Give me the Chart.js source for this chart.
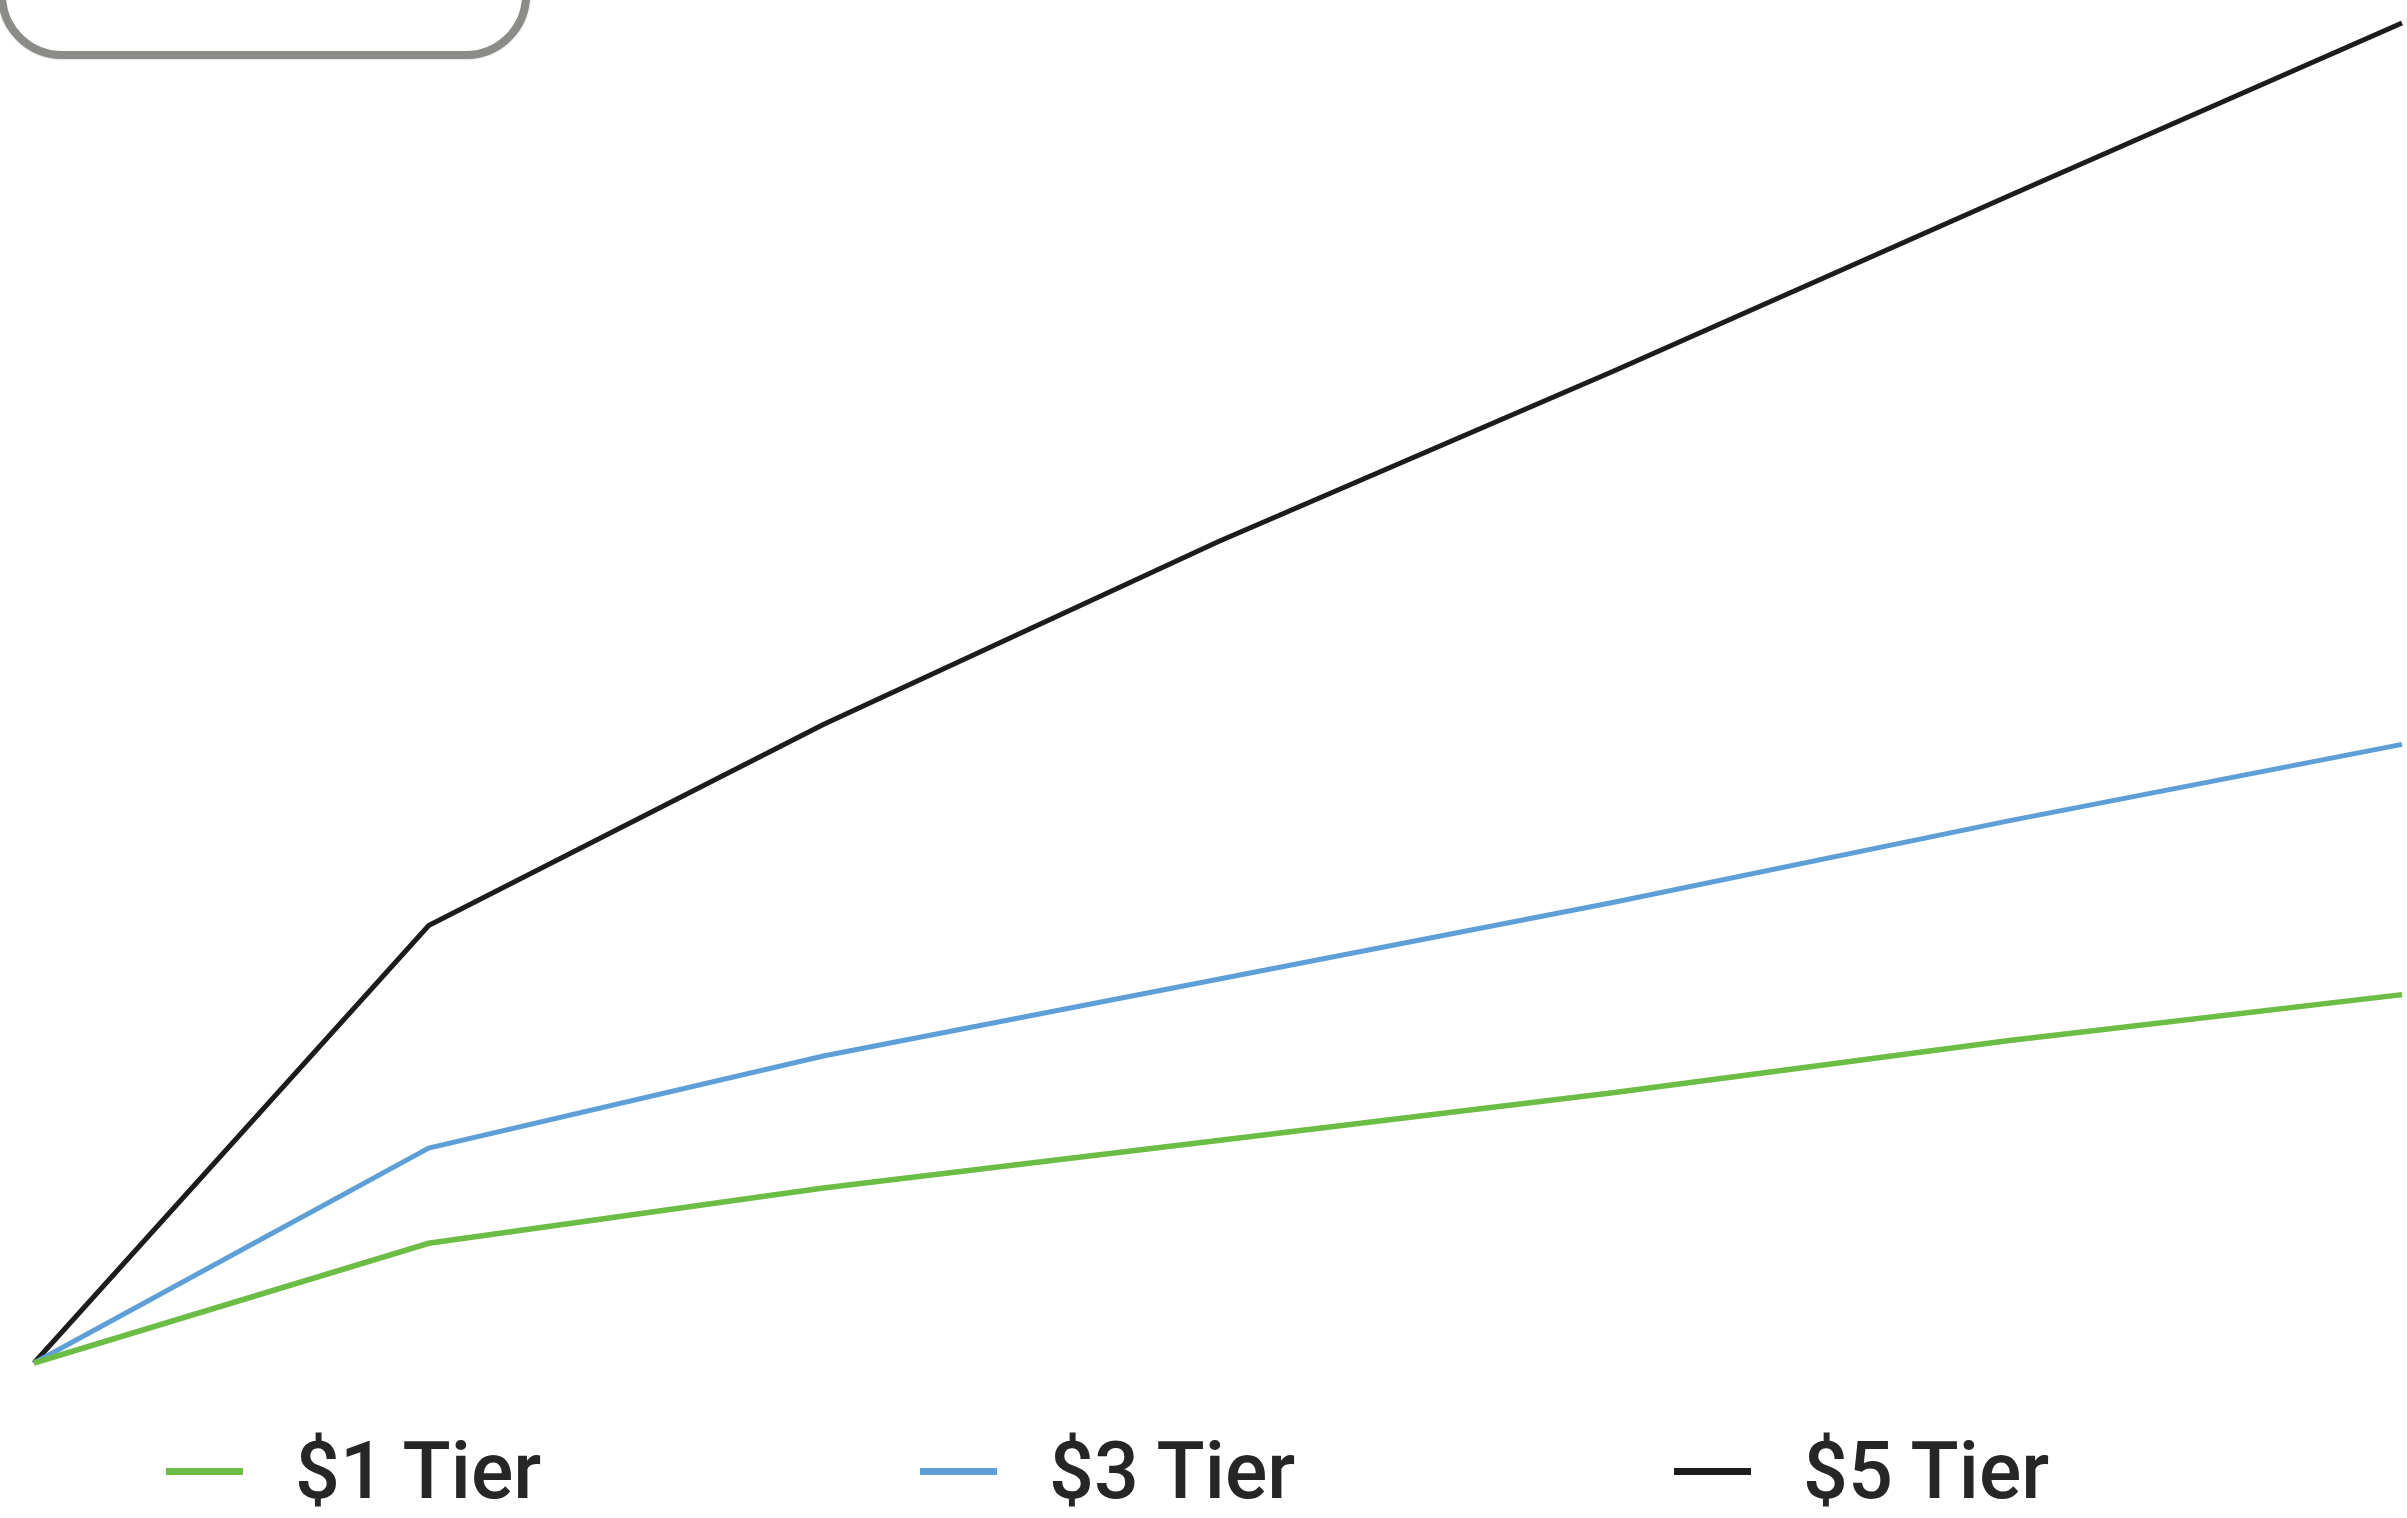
<!DOCTYPE html>
<html>
<head>
<meta charset="utf-8">
<script src="https://cdn.jsdelivr.net/npm/chart.js"></script>
<style>
  html, body { margin: 0; padding: 0; background: #fff; width: 2407px; height: 1518px; overflow: hidden; }
  .tab-box { position: absolute; left: -2px; top: -120px; width: 516px; height: 163px; border: 8px solid #8b8b88; border-radius: 64px; background: #fff; box-shadow: 0 0 2px rgba(120,120,118,0.6); }
  .chart-wrap { position: absolute; left: 0; top: 0; width: 2407px; height: 1400px; }
  .tier-legend { position: absolute; left: 166px; top: 1425px; display: flex; font-family: Roboto, Lato, sans-serif; font-weight: 500; font-size: 79px; color: #262626; }
  .tier-legend .item { width: 754px; display: flex; align-items: center; height: 92px; }
  .tier-legend .swatch { width: 77px; height: 7px; margin-right: 52px; }
</style>
</head>
<body>
<div class="tab-box"></div>
<div class="chart-wrap"><canvas id="tiers"></canvas></div>
<div class="tier-legend" id="legend"></div>
<script>
  // periods along the x axis (no tick labels shown in the picture)
  const periods = ["0", "1", "2", "3", "4", "5", "6"];
  const tierNames = ["$1 Tier", "$3 Tier", "$5 Tier"];

  const tier1 = [0, 78, 114, 145, 176, 210, 240];
  const tier3 = [0, 140, 200, 250, 300, 353, 403];
  const tier5 = [0, 285, 416, 535, 646, 760, 873];

  const tierColors = ["#6cbd45", "#5e9fd8", "#1c1c1c"];
  const tierWidths = [5.5, 5, 5];

  const ctx = document.getElementById("tiers").getContext("2d");
  const chart = new Chart(ctx, {
    type: "line",
    data: {
      labels: periods,
      datasets: [tier1, tier3, tier5].map((vals, i) => ({
        label: tierNames[i],
        data: vals,
        borderColor: tierColors[i],
        backgroundColor: tierColors[i],
        borderWidth: tierWidths[i],
        pointRadius: 0,
        tension: 0,
        clip: false
      }))
    },
    options: {
      responsive: true,
      maintainAspectRatio: false,
      animation: false,
      layout: { padding: { left: 34, right: 5, top: 23, bottom: 37 } },
      plugins: { legend: { display: false }, tooltip: { enabled: false } },
      scales: {
        x: { display: false, offset: false },
        y: { display: false, min: 0, max: 873 }
      }
    }
  });

  // html legend built from the chart's datasets
  const legend = document.getElementById("legend");
  chart.data.datasets.forEach(ds => {
    const item = document.createElement("div");
    item.className = "item";
    item.innerHTML = `<span class="swatch" style="background:${ds.borderColor}"></span><span>${ds.label}</span>`;
    legend.appendChild(item);
  });
</script>
</body>
</html>
